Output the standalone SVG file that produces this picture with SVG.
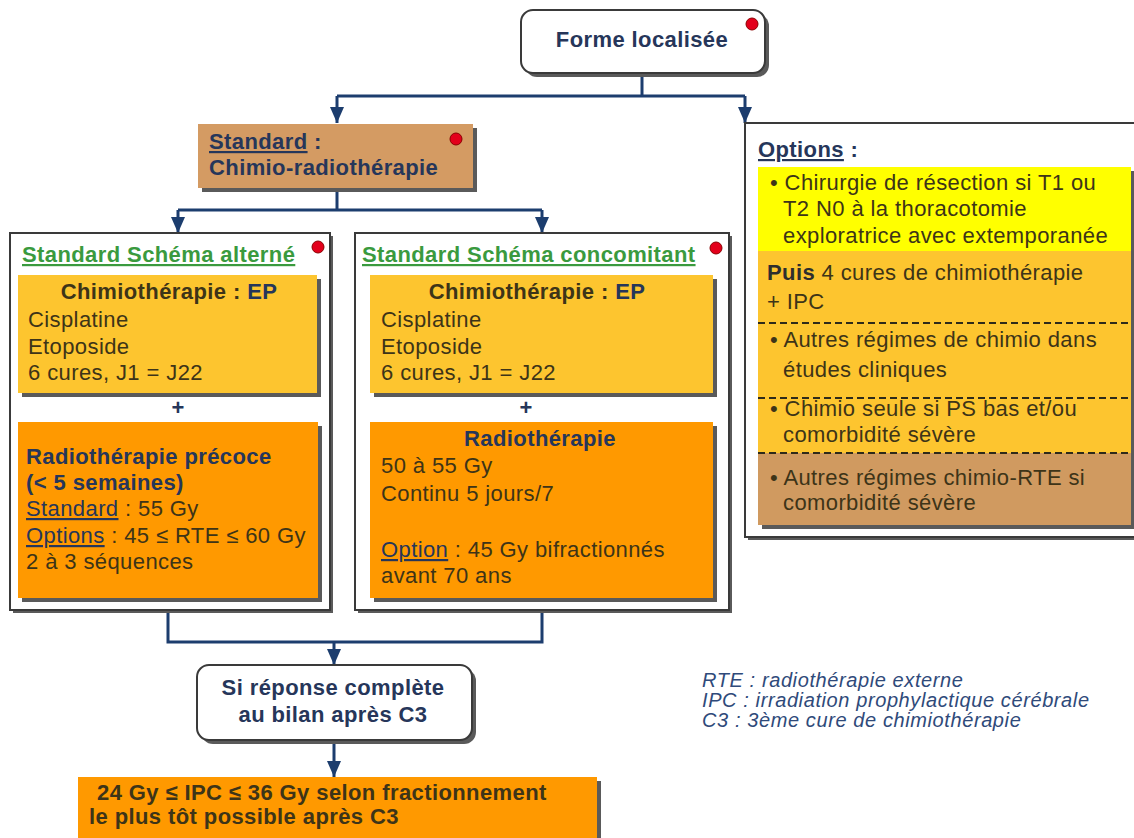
<svg xmlns="http://www.w3.org/2000/svg" width="1134" height="838" viewBox="0 0 1134 838">
<style>
text{font-family:"Liberation Sans",Arial,sans-serif;font-size:22px;letter-spacing:0.4px;fill:#3d3418}
.b{font-weight:bold}
.nv{fill:#26365a}
.c{text-anchor:middle}
.g{fill:#3a9a3e;font-weight:bold}
.u{text-decoration:underline}
.lg{font-style:italic;font-size:20px;letter-spacing:0.6px;fill:#2f4a7a}
.con{stroke:#1c3d6e;stroke-width:3;fill:none}
.sh{fill:#5a5a5a}
.box{stroke:#3a3a3a;stroke-width:2}
.dot{fill:#e3001b;stroke:#8a0000;stroke-width:1}
.dash{stroke:#2e2a1a;stroke-width:2;stroke-dasharray:7,4}
</style>
<defs>
<marker id="ah" markerUnits="userSpaceOnUse" markerWidth="16" markerHeight="14" refX="16" refY="7" orient="auto">
<path d="M0,0 L16,7 L0,14 Z" fill="#1c3d6e"/>
</marker>
</defs>
<rect width="1134" height="838" fill="#ffffff"/>

<g id="connectors">
<line class="con" x1="642" y1="75" x2="642" y2="96"/>
<line class="con" x1="337" y1="96" x2="745" y2="96"/>
<line class="con" x1="337" y1="96" x2="337" y2="123" marker-end="url(#ah)"/>
<line class="con" x1="745" y1="96" x2="745" y2="123" marker-end="url(#ah)"/>
<line class="con" x1="337" y1="188" x2="337" y2="210"/>
<line class="con" x1="178" y1="210" x2="542" y2="210"/>
<line class="con" x1="178" y1="210" x2="178" y2="233" marker-end="url(#ah)"/>
<line class="con" x1="542" y1="210" x2="542" y2="233" marker-end="url(#ah)"/>
<polyline class="con" points="168,610 168,642 542,642 542,610"/>
<line class="con" x1="334" y1="642" x2="334" y2="665" marker-end="url(#ah)"/>
<line class="con" x1="334" y1="741" x2="334" y2="777" marker-end="url(#ah)"/>
</g>

<g id="forme-localisee">
<rect class="sh" x="525" y="14" width="244" height="63" rx="12"/>
<rect class="box" x="521" y="10" width="244" height="63" rx="12" fill="#ffffff"/>
<text class="b nv c" x="642" y="47">Forme localisée</text>
<circle class="dot" cx="752" cy="24" r="6"/>
</g>

<g id="standard">
<rect class="sh" x="202" y="128" width="275" height="64"/>
<rect x="198" y="124" width="275" height="64" fill="#d49b63"/>
<text class="b nv" x="209" y="149"><tspan class="u">Standard</tspan> :</text>
<text class="b nv" x="209" y="175">Chimio-radiothérapie</text>
<circle class="dot" cx="456" cy="139" r="6"/>
</g>

<g id="schema-alterne">
<rect class="sh" x="13" y="236" width="320" height="377"/>
<rect class="box" x="10" y="233" width="320" height="377" fill="#ffffff"/>
<text class="g u" x="22" y="262">Standard Schéma alterné</text>
<circle class="dot" cx="318" cy="247" r="6"/>
<rect class="sh" x="22" y="279" width="299" height="118"/>
<rect x="18" y="275" width="299" height="118" fill="#fdc52f"/>
<text class="b c" x="169" y="299" fill="#2e2e2e">Chimiothérapie : <tspan class="nv">EP</tspan></text>
<text x="28" y="327">Cisplatine</text>
<text x="28" y="354">Etoposide</text>
<text x="28" y="380">6 cures, J1 = J22</text>
<text class="b nv c" x="178" y="415">+</text>
<rect class="sh" x="22" y="426" width="300" height="176"/>
<rect x="18" y="422" width="300" height="176" fill="#ff9900"/>
<text class="b nv" x="26" y="464">Radiothérapie précoce</text>
<text class="b nv" x="26" y="490">(&lt; 5 semaines)</text>
<text x="26" y="516"><tspan class="nv u">Standard</tspan> : 55 Gy</text>
<text x="26" y="543"><tspan class="nv u">Options</tspan> : 45 ≤ RTE ≤ 60 Gy</text>
<text x="26" y="569">2 à 3 séquences</text>
</g>

<g id="schema-concomitant">
<rect class="sh" x="358" y="236" width="374" height="377"/>
<rect class="box" x="355" y="233" width="374" height="377" fill="#ffffff"/>
<text class="g u" x="362" y="262">Standard Schéma concomitant</text>
<circle class="dot" cx="716" cy="248" r="6"/>
<rect class="sh" x="374" y="279" width="343" height="118"/>
<rect x="370" y="275" width="343" height="118" fill="#fdc52f"/>
<text class="b c" x="537" y="299" fill="#2e2e2e">Chimiothérapie : <tspan class="nv">EP</tspan></text>
<text x="381" y="327">Cisplatine</text>
<text x="381" y="354">Etoposide</text>
<text x="381" y="380">6 cures, J1 = J22</text>
<text class="b nv c" x="526" y="415">+</text>
<rect class="sh" x="374" y="426" width="343" height="176"/>
<rect x="370" y="422" width="343" height="176" fill="#ff9900"/>
<text class="b nv c" x="540" y="446">Radiothérapie</text>
<text x="381" y="473">50 à 55 Gy</text>
<text x="381" y="501">Continu 5 jours/7</text>
<text x="381" y="557"><tspan class="nv u">Option</tspan> : 45 Gy bifractionnés</text>
<text x="381" y="583">avant 70 ans</text>
</g>

<g id="options">
<rect class="sh" x="748" y="126" width="400" height="414"/>
<rect class="box" x="745" y="123" width="400" height="414" fill="#ffffff"/>
<text class="b nv" x="758" y="157"><tspan class="u">Options</tspan> :</text>
<rect class="sh" x="762" y="171" width="373" height="358"/>
<rect x="758" y="167" width="373" height="84" fill="#ffff00"/>
<rect x="758" y="251" width="373" height="202" fill="#fdc52f"/>
<rect x="758" y="453" width="373" height="72" fill="#d09a60"/>
<line class="dash" x1="758" y1="323" x2="1131" y2="323"/>
<line class="dash" x1="758" y1="398" x2="1131" y2="398"/>
<line class="dash" x1="758" y1="453" x2="1131" y2="453"/>
<text x="770" y="190">• Chirurgie de résection si T1 ou</text>
<text x="783" y="216">T2 N0 à la thoracotomie</text>
<text x="783" y="243">exploratrice avec extemporanée</text>
<text x="767" y="280"><tspan class="b" fill="#2e2e2e">Puis</tspan> 4 cures de chimiothérapie</text>
<text x="767" y="309">+ IPC</text>
<text x="770" y="347">• Autres régimes de chimio dans</text>
<text x="783" y="377">études cliniques</text>
<text x="770" y="416">• Chimio seule si PS bas et/ou</text>
<text x="783" y="442">comorbidité sévère</text>
<text x="770" y="485">• Autres régimes chimio-RTE si</text>
<text x="783" y="510">comorbidité sévère</text>
</g>

<g id="reponse-complete">
<rect class="sh" x="201" y="669" width="275" height="75" rx="12"/>
<rect class="box" x="197" y="665" width="275" height="75" rx="12" fill="#ffffff"/>
<text class="b nv c" x="333" y="695">Si réponse complète</text>
<text class="b nv c" x="333" y="722">au bilan après C3</text>
</g>

<g id="ipc">
<rect class="sh" x="82" y="781" width="519" height="70"/>
<rect x="78" y="777" width="519" height="70" fill="#ff9900"/>
<text class="b" x="97" y="800" fill="#2e2e2e">24 Gy ≤ IPC ≤ 36 Gy selon fractionnement</text>
<text class="b" x="89" y="824" fill="#2e2e2e">le plus tôt possible après C3</text>
</g>

<g id="legend">
<text class="lg" x="702" y="687">RTE : radiothérapie externe</text>
<text class="lg" x="702" y="707">IPC : irradiation prophylactique cérébrale</text>
<text class="lg" x="702" y="727">C3 : 3ème cure de chimiothérapie</text>
</g>
</svg>
